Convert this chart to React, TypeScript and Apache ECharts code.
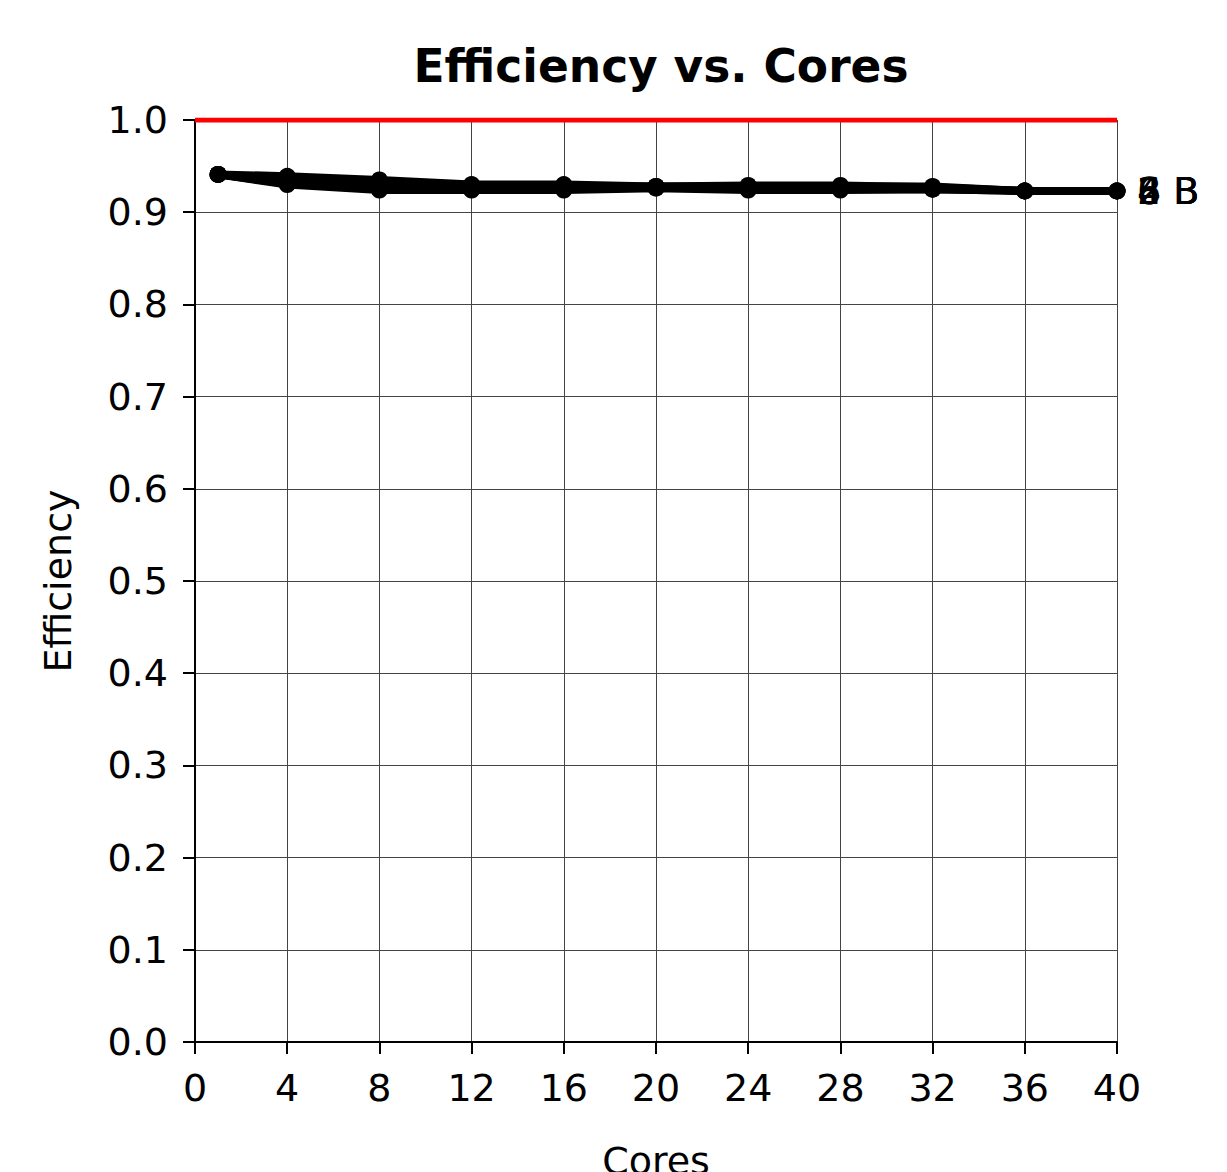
import React, { useEffect, useRef } from "react";
import * as echarts from "echarts";

const cores = [1, 4, 8, 12, 16, 20, 24, 28, 32, 36, 40];
const seriesNames = ["2 B", "4 B", "6 B", "8 B"];
const effA = [0.941, 0.939, 0.935, 0.930, 0.930, 0.928, 0.929, 0.929, 0.927, 0.923, 0.923];
const effB = [0.941, 0.932, 0.931, 0.929, 0.928, 0.928, 0.928, 0.928, 0.928, 0.923, 0.923];
const effC = [0.941, 0.931, 0.925, 0.925, 0.925, 0.927, 0.925, 0.925, 0.925, 0.923, 0.923];
const effD = [0.941, 0.930, 0.924, 0.924, 0.924, 0.926, 0.924, 0.924, 0.925, 0.923, 0.923];
const allEff = [effA, effB, effC, effD];
const idealX = [0, 40];
const idealY = [1.0, 1.0];

const FONT = "DejaVu Sans";

export default function App() {
  const ref = useRef<HTMLDivElement>(null);
  useEffect(() => {
    document.body.style.margin = "0";
    const chart = echarts.init(ref.current!, null, { renderer: "svg" });
    const lineSeries = allEff.map((vals, i) => ({
      type: "line",
      name: seriesNames[i],
      data: cores.map((c, j) => [c, vals[j]]),
      symbol: "circle",
      symbolSize: 17,
      lineStyle: { color: "#000", width: 8 },
      itemStyle: { color: "#000" },
      endLabel: {
        show: true,
        formatter: "{a}",
        color: "#000",
        fontSize: 38,
        fontFamily: FONT,
        distance: 20,
      },
      z: 3,
    }));
    chart.setOption({
      animation: false,
      textStyle: { fontFamily: FONT },
      title: {
        text: "Efficiency vs. Cores",
        left: 656,
        top: 38,
        textAlign: "center",
        textStyle: { fontSize: 45.5, fontWeight: "bold", color: "#000", fontFamily: FONT },
      },
      grid: {
        left: 195,
        right: 110,
        top: 120,
        bottom: 130,
        containLabel: false,
        outerBoundsMode: "none",
      },
      xAxis: {
        type: "value",
        min: 0,
        max: 40,
        interval: 4,
        name: "Cores",
        nameLocation: "middle",
        nameGap: 100,
        nameTextStyle: { fontSize: 38, color: "#000", fontFamily: FONT },
        axisLine: { show: true, onZero: false, lineStyle: { color: "#000", width: 2 } },
        axisTick: { show: true, length: 12, lineStyle: { color: "#000", width: 2 } },
        axisLabel: { fontSize: 38, color: "#000", margin: 27, fontFamily: FONT },
        splitLine: { show: true, lineStyle: { color: "#444", width: 1 } },
      },
      yAxis: {
        type: "value",
        min: 0,
        max: 1,
        interval: 0.1,
        name: "Efficiency",
        nameLocation: "middle",
        nameGap: 118,
        nameTextStyle: { fontSize: 38, color: "#000", fontFamily: FONT },
        axisLine: { show: true, lineStyle: { color: "#000", width: 2 } },
        axisTick: { show: true, length: 12, lineStyle: { color: "#000", width: 2 } },
        axisLabel: {
          fontSize: 38,
          color: "#000",
          margin: 27,
          fontFamily: FONT,
          formatter: (v: number) => v.toFixed(1),
        },
        splitLine: { show: true, lineStyle: { color: "#444", width: 1 } },
      },
      series: [
        {
          type: "line",
          name: "ideal",
          data: idealX.map((x, i) => [x, idealY[i]]),
          symbol: "none",
          lineStyle: { color: "#ff0000", width: 5 },
          z: 4,
        },
        ...lineSeries,
      ],
    });
    return () => chart.dispose();
  }, []);
  return (
    <div
      ref={ref}
      style={{ position: "absolute", left: 0, top: 0, width: 1227, height: 1172 }}
    />
  );
}
